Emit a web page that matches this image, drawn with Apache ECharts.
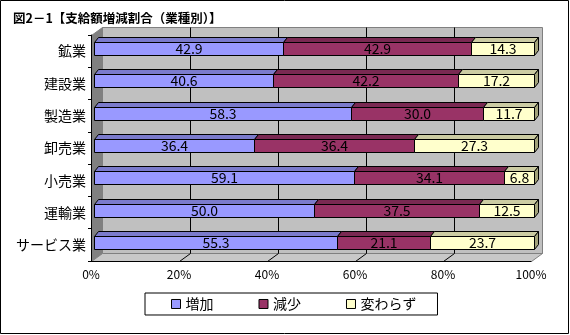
<!DOCTYPE html>
<html>
<head>
<meta charset="utf-8">
<script src="https://cdn.jsdelivr.net/npm/echarts@6/dist/echarts.min.js"></script>
<style>
  html, body { margin: 0; padding: 0; background: #fff; }
  #chart { width: 570px; height: 335px; }
</style>
</head>
<body>
<div id="chart"></div>
<script>
// 業種別 支給額増減割合 (%)
const categories = ['鉱業', '建設業', '製造業', '卸売業', '小売業', '運輸業', 'サービス業'];
const seriesNames = ['増加', '減少', '変わらず'];
const increase  = [42.9, 40.6, 58.3, 36.4, 59.1, 50.0, 55.3];
const decrease  = [42.9, 42.2, 30.0, 36.4, 34.1, 37.5, 21.1];
const unchanged = [14.3, 17.2, 11.7, 27.3,  6.8, 12.5, 23.7];
const xTicks = [0, 20, 40, 60, 80, 100];

const FONT = '"Noto Sans CJK JP", "Noto Sans", sans-serif';
const frontColors = ['#9999FF', '#993366', '#FFFFCC'];
const topColors   = ['#7B7BCC', '#7A2952', '#CCCCA3'];
const sideColor   = '#A3A37A';

// 3D look: depth of the walls and of each bar (pixels)
const WALL_DX = 11, WALL_DY = -8;
const BAR_DX = 4, BAR_DY = -5, BAR_SHIFT = 3;

const seriesValues = [increase, decrease, unchanged];

// 100% stacked: each row is normalised to its own total
const stackedData = seriesValues.map((vals, s) => vals.map((v, i) => {
  const total = increase[i] + decrease[i] + unchanged[i];
  let before = 0;
  for (let k = 0; k < s; k++) before += seriesValues[k][i];
  return [i, before / total * 100, (before + v) / total * 100, v];
}));

const px = v => Math.round(v) + 0.5;

function renderFrame(params, api) {
  const cs = params.coordSys;
  const left = cs.x, right = cs.x + cs.width, top = cs.y, bottom = cs.y + cs.height;
  const children = [];
  // back wall
  children.push({
    type: 'rect',
    shape: { x: px(left + WALL_DX), y: px(top + WALL_DY), width: Math.round(cs.width), height: Math.round(cs.height) },
    style: { fill: '#C0C0C0', stroke: '#808080', lineWidth: 1 }
  });
  // side wall
  children.push({
    type: 'polygon',
    shape: { points: [[px(left), px(top)], [px(left + WALL_DX), px(top + WALL_DY)], [px(left + WALL_DX), px(bottom + WALL_DY)], [px(left), px(bottom)]] },
    style: { fill: '#808080', stroke: '#808080', lineWidth: 1 }
  });
  // floor
  children.push({
    type: 'polygon',
    shape: { points: [[px(left), px(bottom)], [px(left + WALL_DX), px(bottom + WALL_DY)], [px(right + WALL_DX), px(bottom + WALL_DY)], [px(right), px(bottom)]] },
    style: { fill: '#C8C8C8', stroke: '#808080', lineWidth: 1 }
  });
  // gridlines on the back wall and the floor
  xTicks.forEach(t => {
    if (t === 0 || t === 100) return;
    const x = api.coord([t, 0])[0];
    children.push({
      type: 'polyline',
      shape: { points: [[px(x + WALL_DX), px(top + WALL_DY)], [px(x + WALL_DX), px(bottom + WALL_DY)], [px(x), px(bottom)]] },
      style: { fill: null, stroke: '#000', lineWidth: 1 }
    });
  });
  return { type: 'group', children };
}

function makeBarRenderer(s) {
  const isLast = s === seriesValues.length - 1;
  return function (params, api) {
    const cat = api.value(0);
    const p0 = api.coord([api.value(1), cat]);
    const p1 = api.coord([api.value(2), cat]);
    const x0 = Math.round(p0[0] + BAR_SHIFT) + 0.5;
    const x1 = Math.round(p1[0] + BAR_SHIFT) + 0.5;
    const c = Math.round(p0[1]);
    const yT = c - 9 + 0.5, yB = c + 4 + 0.5;
    const children = [];
    children.push({
      type: 'polygon',
      shape: { points: [[x0, yT], [x1, yT], [x1 + BAR_DX, yT + BAR_DY], [x0 + BAR_DX, yT + BAR_DY]] },
      style: { fill: topColors[s], stroke: '#000', lineWidth: 1 }
    });
    if (isLast) {
      children.push({
        type: 'polygon',
        shape: { points: [[x1, yT], [x1 + BAR_DX, yT + BAR_DY], [x1 + BAR_DX, yB + BAR_DY], [x1, yB]] },
        style: { fill: sideColor, stroke: '#000', lineWidth: 1 }
      });
    }
    children.push({
      type: 'rect',
      shape: { x: x0, y: yT, width: x1 - x0, height: yB - yT },
      style: { fill: frontColors[s], stroke: '#000', lineWidth: 1 }
    });
    children.push({
      type: 'text',
      x: (x0 + x1) / 2,
      y: c - 2,
      style: {
        text: api.value(3).toFixed(1),
        fill: '#000',
        font: '14px ' + FONT,
        align: 'center',
        verticalAlign: 'middle'
      }
    });
    return { type: 'group', children };
  };
}

const chart = echarts.init(document.getElementById('chart'), null, { renderer: 'canvas' });

chart.setOption({
  animation: false,
  backgroundColor: '#fff',
  title: {
    text: '図2－1【支給額増減割合（業種別）】',
    left: 8, top: 7,
    textStyle: { fontFamily: FONT, fontSize: 12.5, fontWeight: 'bold', color: '#000' }
  },
  graphic: [{
    type: 'rect',
    shape: { x: 0.5, y: 0.5, width: 568, height: 333 },
    style: { fill: null, stroke: '#000', lineWidth: 1 },
    silent: true
  }],
  legend: {
    left: 145, top: 293,
    orient: 'horizontal',
    backgroundColor: '#fff',
    borderColor: '#000', borderWidth: 1, borderRadius: 0,
    padding: [4, 21, 4, 26],
    itemGap: 45,
    itemWidth: 9, itemHeight: 9,
    textStyle: { fontFamily: FONT, fontSize: 14, color: '#000' },
    data: seriesNames.map(n => ({ name: n, icon: 'rect', itemStyle: { borderColor: '#000', borderWidth: 1 } }))
  },
  grid: { left: 91, right: 39, top: 35, bottom: 74 },
  xAxis: {
    type: 'value', min: 0, max: 100, interval: 20, z: 10,
    axisLine: { show: true, lineStyle: { color: '#000', width: 1 } },
    axisTick: { show: false },
    splitLine: { show: false },
    axisLabel: { formatter: '{value}%', fontFamily: FONT, fontSize: 12, color: '#000', margin: 7 }
  },
  yAxis: {
    type: 'category', data: categories, inverse: true, z: 10,
    axisLine: { show: true, lineStyle: { color: '#000', width: 1 } },
    axisTick: { show: true, length: 3, lineStyle: { color: '#000' } },
    axisLabel: { fontFamily: FONT, fontSize: 14, color: '#000', margin: 5 }
  },
  series: [
    {
      type: 'custom', name: '_frame', silent: true, z: 1,
      data: [[0, 0, 0, 0]],
      encode: { x: 1, y: 0 },
      renderItem: renderFrame
    }
  ].concat(seriesNames.map((name, s) => ({
    type: 'custom',
    name,
    z: 3,
    itemStyle: { color: frontColors[s], borderColor: '#000', borderWidth: 1 },
    data: stackedData[s],
    encode: { x: [1, 2], y: 0 },
    renderItem: makeBarRenderer(s)
  })))
});
</script>
</body>
</html>
